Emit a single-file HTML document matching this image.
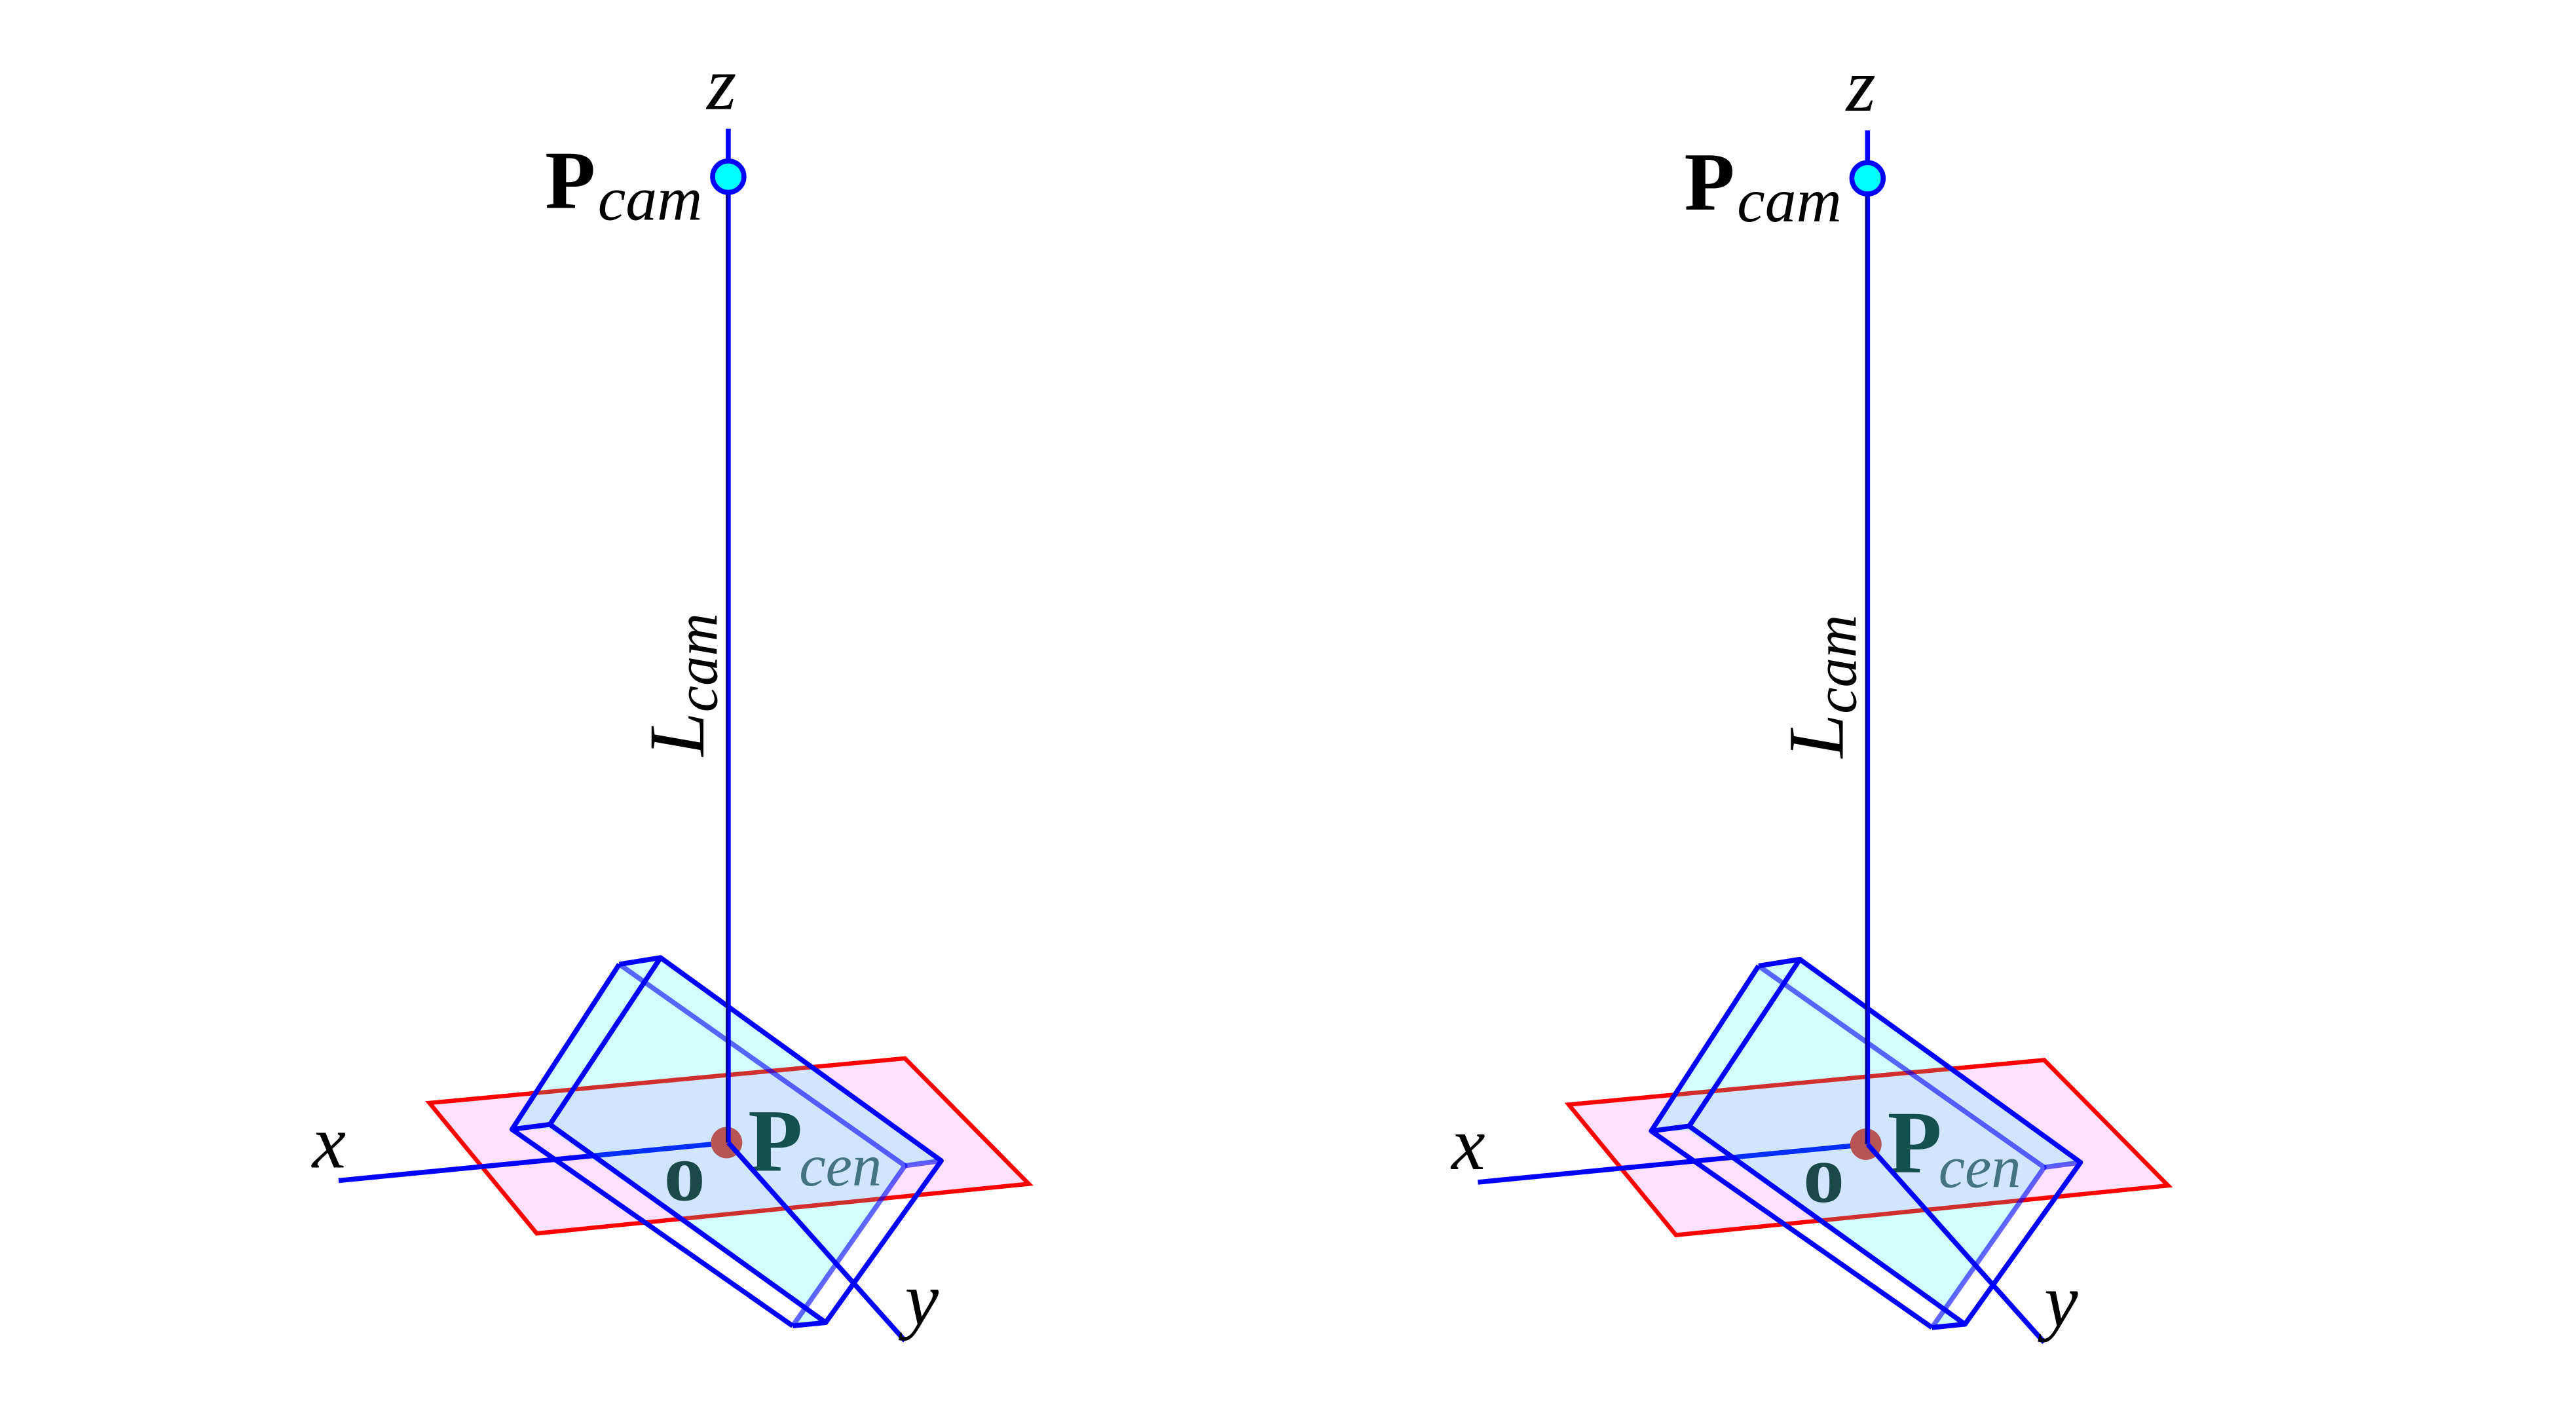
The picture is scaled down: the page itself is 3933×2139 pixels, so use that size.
<!DOCTYPE html>
<html><head><meta charset="utf-8"><style>html,body{margin:0;padding:0;background:#fff}svg{display:block}</style></head>
<body>
<svg width="3933" height="2139" viewBox="0 0 1560 848.5" xmlns="http://www.w3.org/2000/svg">
<defs>
<g id="fig">
  <polygon points="260,668 548,641 623,717 325,747" fill="#ff00ff" fill-opacity="0.12" stroke="#ff0000" stroke-width="2.6"/>
  <line x1="441" y1="692" x2="205" y2="715" stroke="#0000ff" stroke-width="3"/>
  <text x="402" y="727" font-family="Liberation Serif, serif" font-weight="bold" font-size="50" fill="#222">o</text>
  <text x="453" y="709" font-family="Liberation Serif, serif" font-weight="bold" font-size="54" fill="#1a2a2a">P</text>
  <text x="484" y="718" font-family="Liberation Serif, serif" font-style="italic" font-size="36" fill="#555566">cen</text>
  <circle cx="440" cy="692" r="9.5" fill="#e03030"/>
  <polygon points="375,584 400,580 570,703 548,706 480,803 500,801 333,684 310,684" fill="#00ffff" fill-opacity="0.18"/>
  <g fill="none" stroke="#0000ff" stroke-width="3" stroke-linejoin="round">
    <polyline points="375,584 548,706 480,803" stroke-opacity="0.6"/>
    <line x1="548" y1="706" x2="570" y2="703" stroke-opacity="0.6"/>
    <polyline points="375,584 310,684 480,803"/>
    <line x1="375" y1="584" x2="400" y2="580"/>
    <line x1="310" y1="684" x2="333" y2="681"/>
    <line x1="480" y1="803" x2="500" y2="801"/>
    <polygon points="400,580 570,703 500,801 333,681"/>
  </g>
  <line x1="441" y1="692" x2="548" y2="812" stroke="#0000ff" stroke-width="3"/>
  <line x1="441" y1="78" x2="441" y2="692" stroke="#0000ff" stroke-width="3"/>
  <line x1="440" y1="115" x2="440" y2="692" stroke="#000" stroke-width="1" stroke-opacity="0.5"/>
  <circle cx="441" cy="107" r="9.5" fill="#00ffff" stroke="#0000ff" stroke-width="3"/>
  <text x="428" y="66" font-family="Liberation Serif, serif" font-style="italic" font-size="46" fill="#000">z</text>
  <text x="330" y="126" font-family="Liberation Serif, serif" font-weight="bold" font-size="50" fill="#000">P</text>
  <text x="362" y="133" font-family="Liberation Serif, serif" font-style="italic" font-size="38" fill="#000">cam</text>
  <text transform="translate(426,458) rotate(-90)" font-family="Liberation Serif, serif" font-style="italic" fill="#000"><tspan font-size="48">L</tspan><tspan font-size="36" dy="8">cam</tspan></text>
  <text x="189" y="707" font-family="Liberation Serif, serif" font-style="italic" font-size="46" fill="#000">x</text>
  <text x="548" y="802" font-family="Liberation Serif, serif" font-style="italic" font-size="46" fill="#000">y</text>
</g>
</defs>
<use href="#fig"/>
<use href="#fig" transform="translate(690,1)"/>
</svg>
</body></html>
